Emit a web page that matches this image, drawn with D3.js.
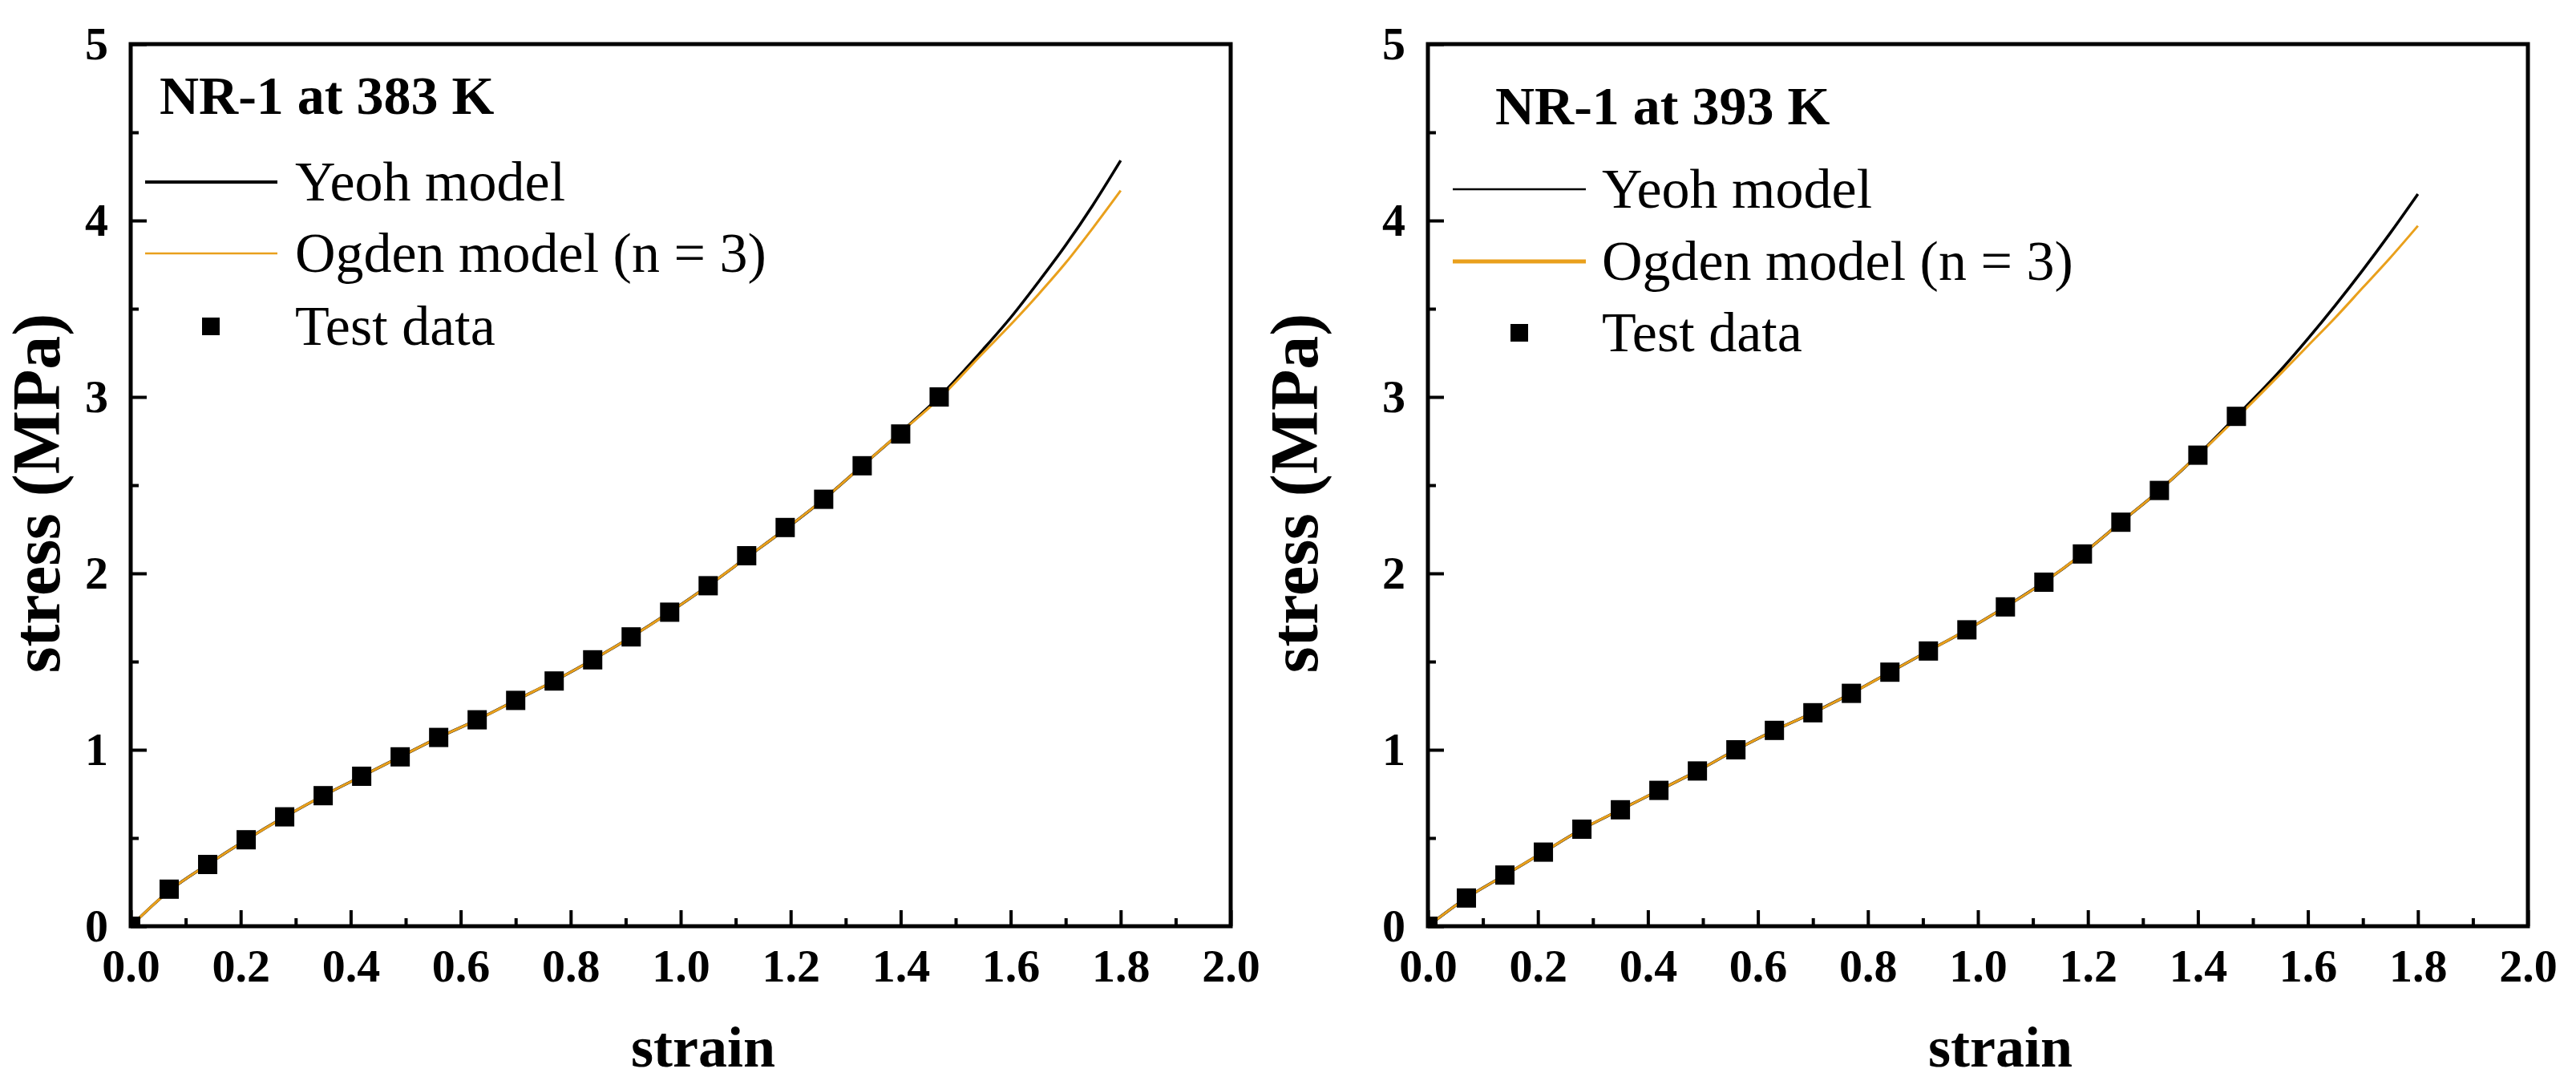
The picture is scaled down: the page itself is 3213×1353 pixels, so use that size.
<!DOCTYPE html>
<html>
<head>
<meta charset="utf-8">
<script src="https://cdn.jsdelivr.net/npm/d3@7"></script>
<style>
  html, body { margin: 0; padding: 0; background: #fff; }
  svg text { font-family: "Liberation Serif", "Times New Roman", serif; }
</style>
</head>
<body>
<svg id="chart" width="3213" height="1353"></svg>
<script>
// test data strains (same for both temperatures)
const testStrain = [0, 0.07, 0.14, 0.21, 0.28, 0.35, 0.42, 0.49, 0.56, 0.63, 0.70, 0.77,
    0.84, 0.91, 0.98, 1.05, 1.12, 1.19, 1.26, 1.33, 1.40, 1.47];
const test383 = [0, 0.21, 0.35, 0.49, 0.62, 0.74, 0.85, 0.96, 1.07, 1.17, 1.28, 1.39,
    1.51, 1.64, 1.78, 1.93, 2.10, 2.26, 2.42, 2.61, 2.79, 3.00];
const test393 = [0, 0.16, 0.29, 0.42, 0.55, 0.66, 0.77, 0.88, 1.00, 1.11, 1.21, 1.32,
    1.44, 1.56, 1.68, 1.81, 1.95, 2.11, 2.29, 2.47, 2.67, 2.89];

// model curves
const curveStrain = [0, 0.07, 0.14, 0.21, 0.28, 0.35, 0.42, 0.49, 0.56, 0.63, 0.70, 0.77,
    0.84, 0.91, 0.98, 1.05, 1.12, 1.19, 1.26, 1.33, 1.40, 1.47, 1.55, 1.60, 1.65, 1.70, 1.75, 1.80];
const yeoh383 = [0, 0.20, 0.35, 0.49, 0.62, 0.74, 0.85, 0.96, 1.07, 1.17, 1.28, 1.39,
    1.51, 1.64, 1.78, 1.93, 2.09, 2.25, 2.42, 2.61, 2.80, 3.00, 3.27, 3.45, 3.65, 3.86, 4.09, 4.34];
const ogden383 = [0, 0.20, 0.35, 0.49, 0.62, 0.74, 0.85, 0.96, 1.07, 1.17, 1.28, 1.39,
    1.51, 1.64, 1.78, 1.93, 2.09, 2.25, 2.42, 2.61, 2.80, 2.99, 3.25, 3.41, 3.58, 3.76, 3.96, 4.17];
const yeoh393 = [0, 0.16, 0.29, 0.42, 0.55, 0.66, 0.77, 0.88, 1.00, 1.11, 1.21, 1.32,
    1.44, 1.56, 1.68, 1.81, 1.95, 2.11, 2.29, 2.47, 2.67, 2.89, 3.15, 3.33, 3.52, 3.72, 3.93, 4.15];
const ogden393 = [0, 0.16, 0.29, 0.42, 0.55, 0.66, 0.77, 0.88, 1.00, 1.11, 1.21, 1.32,
    1.44, 1.56, 1.68, 1.81, 1.95, 2.11, 2.29, 2.47, 2.67, 2.88, 3.13, 3.29, 3.45, 3.62, 3.79, 3.97];

const xTicks = [0.0, 0.2, 0.4, 0.6, 0.8, 1.0, 1.2, 1.4, 1.6, 1.8, 2.0];
const yTicks = [0, 1, 2, 3, 4, 5];
const legendLabels = ["Yeoh model", "Ogden model (n = 3)", "Test data"];

const orange = "#e9a01c";

const panels = [
    { left: 163, yTitleX: 74, title: "NR-1 at 383 K", test: test383, yeoh: yeoh383, ogden: ogden383,
      leg: { titleX: 36, titleY: 142, lineX0: 18, lineX1: 183, textX: 205, rows: [227, 316, 407], markX: 100,
             yeohW: 4, ogdenW: 2.5 } },
    { left: 1781, yTitleX: 1643, title: "NR-1 at 393 K", test: test393, yeoh: yeoh393, ogden: ogden393,
      leg: { titleX: 84, titleY: 155, lineX0: 31, lineX1: 197, textX: 217, rows: [236, 326, 415], markX: 114,
             yeohW: 2.5, ogdenW: 5 } }
];

const plotTop = 55, plotBottom = 1155, plotW = 1372;
const svg = d3.select("#chart");

panels.forEach((p, i) => {
    const g = svg.append("g").attr("transform", `translate(${p.left},0)`);

    const x = d3.scaleLinear().domain([0, 2]).range([0, plotW]);
    const y = d3.scaleLinear().domain([0, 5]).range([plotBottom, plotTop]);

    g.append("clipPath").attr("id", "clip" + i)
        .append("rect").attr("x", 0).attr("y", plotTop).attr("width", plotW).attr("height", plotBottom - plotTop);

    // minor ticks
    g.append("g")
        .attr("transform", `translate(0,${plotBottom})`)
        .call(d3.axisBottom(x).tickValues(d3.range(0.1, 2, 0.2)).tickSize(-10).tickFormat(""))
        .call(a => a.select(".domain").remove())
        .selectAll("line").attr("stroke-width", 4);
    g.append("g")
        .call(d3.axisLeft(y).tickValues([0.5, 1.5, 2.5, 3.5, 4.5]).tickSize(-10).tickFormat(""))
        .call(a => a.select(".domain").remove())
        .selectAll("line").attr("stroke-width", 4);

    // major ticks
    const xa = g.append("g")
        .attr("transform", `translate(0,${plotBottom})`)
        .call(d3.axisBottom(x).tickValues(xTicks).tickSize(-20).tickPadding(28).tickFormat(d3.format(".1f")));
    xa.select(".domain").remove();
    xa.selectAll("line").attr("stroke-width", 4);
    xa.selectAll("text").attr("font-size", 58).attr("font-weight", "bold").attr("fill", "#000")
        .attr("font-family", "Liberation Serif");

    const ya = g.append("g")
        .call(d3.axisLeft(y).tickValues(yTicks).tickSize(-20).tickPadding(28).tickFormat(d3.format("d")));
    ya.select(".domain").remove();
    ya.selectAll("line").attr("stroke-width", 4);
    ya.selectAll("text").attr("font-size", 58).attr("font-weight", "bold").attr("fill", "#000")
        .attr("font-family", "Liberation Serif");

    // frame
    g.append("rect")
        .attr("x", 0).attr("y", plotTop)
        .attr("width", plotW).attr("height", plotBottom - plotTop)
        .attr("fill", "none").attr("stroke", "#000").attr("stroke-width", 5);

    // curves
    const line = d3.line()
        .x((d, k) => x(curveStrain[k]))
        .y(d => y(d))
        .curve(d3.curveMonotoneX);

    const plot = g.append("g").attr("clip-path", `url(#clip${i})`);
    plot.append("path").datum(p.yeoh)
        .attr("fill", "none").attr("stroke", "#000").attr("stroke-width", 3.5).attr("d", line);
    plot.append("path").datum(p.ogden)
        .attr("fill", "none").attr("stroke", orange).attr("stroke-width", 3).attr("d", line);

    const ms = 24;
    plot.selectAll(".pt")
        .data(p.test)
        .enter()
        .append("rect")
        .attr("class", "pt")
        .attr("x", (d, k) => x(testStrain[k]) - ms / 2)
        .attr("y", d => y(d) - ms / 2)
        .attr("width", ms).attr("height", ms)
        .attr("fill", "#000");

    // axis titles
    g.append("text")
        .attr("x", plotW / 2 + 28).attr("y", 1330)
        .attr("text-anchor", "middle")
        .attr("font-size", 72).attr("font-weight", "bold")
        .text("strain");

    g.append("text")
        .attr("transform", `translate(${p.yTitleX - p.left}, ${(plotTop + plotBottom) / 2 + 10}) rotate(-90)`)
        .attr("text-anchor", "middle")
        .attr("font-size", 84).attr("font-weight", "bold")
        .text("stress (MPa)");

    // legend
    const L = p.leg;
    g.append("text")
        .attr("x", L.titleX).attr("y", L.titleY)
        .attr("font-size", 68).attr("font-weight", "bold")
        .text(p.title);

    g.append("line")
        .attr("x1", L.lineX0).attr("x2", L.lineX1).attr("y1", L.rows[0]).attr("y2", L.rows[0])
        .attr("stroke", "#000").attr("stroke-width", L.yeohW);
    g.append("line")
        .attr("x1", L.lineX0).attr("x2", L.lineX1).attr("y1", L.rows[1]).attr("y2", L.rows[1])
        .attr("stroke", orange).attr("stroke-width", L.ogdenW);
    g.append("rect")
        .attr("x", L.markX - 11).attr("y", L.rows[2] - 11)
        .attr("width", 22).attr("height", 22).attr("fill", "#000");

    legendLabels.forEach((t, k) => {
        g.append("text")
            .attr("x", L.textX).attr("y", L.rows[k] + 23)
            .attr("font-size", 70)
            .text(t);
    });
});
</script>
</body>
</html>
